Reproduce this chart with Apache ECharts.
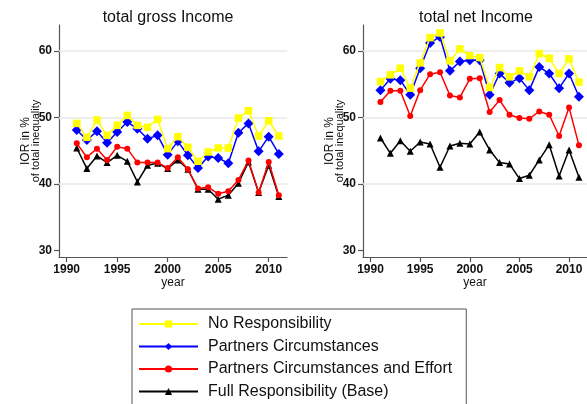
<!DOCTYPE html>
<html>
<head>
<meta charset="utf-8">
<script src="https://cdn.jsdelivr.net/npm/echarts@6/dist/echarts.min.js"></script>
<style>
  html, body { margin: 0; padding: 0; background: #fff; }
  #chart { width: 587px; height: 404px; }
</style>
</head>
<body>
<div id="chart"></div>
<script>
// Survey years
const years = [1991, 1992, 1993, 1994, 1995, 1996, 1997, 1998, 1999, 2000,
               2001, 2002, 2003, 2004, 2005, 2006, 2007, 2008, 2009, 2010, 2011];

// Inequality of opportunity (IOR) share, total gross income
const grossNoResp      = [49.1, 47.0, 49.6, 47.3, 48.8, 50.3, 48.8, 48.5, 49.7, 45.3, 47.1, 45.5, 43.4, 44.8, 45.4, 45.4, 49.9, 51.0, 47.2, 49.5, 47.2];
const grossPartCirc    = [48.1, 46.6, 47.9, 46.2, 47.8, 49.3, 48.3, 46.8, 47.3, 44.4, 46.4, 44.3, 42.4, 44.1, 43.9, 43.1, 47.7, 49.1, 44.9, 47.1, 44.5];
const grossPartEffort  = [46.1, 44.0, 45.3, 43.6, 45.6, 45.3, 43.2, 43.2, 43.2, 42.4, 44.0, 42.2, 39.3, 39.5, 38.5, 38.9, 40.6, 43.5, 38.7, 43.3, 38.3];
const grossFullResp    = [45.4, 42.3, 44.2, 43.2, 44.3, 43.4, 40.3, 42.8, 43.1, 42.3, 43.6, 42.2, 39.2, 39.2, 37.7, 38.3, 40.1, 43.3, 38.7, 42.8, 38.1];

// Inequality of opportunity (IOR) share, total net income
const netNoResp        = [55.4, 56.4, 57.4, 54.4, 58.2, 62.0, 62.7, 58.5, 60.3, 59.3, 59.0, 54.5, 57.5, 56.1, 57.0, 56.1, 59.6, 58.9, 56.6, 58.8, 55.3];
const netPartCirc      = [54.1, 55.8, 55.6, 53.4, 57.4, 61.2, 62.1, 57.0, 58.4, 58.6, 58.6, 53.4, 56.6, 55.2, 55.9, 54.1, 57.6, 56.6, 54.4, 56.6, 53.1];
const netPartEffort    = [52.3, 54.0, 54.0, 50.2, 54.1, 56.5, 56.8, 53.3, 53.0, 55.8, 55.9, 50.8, 52.6, 50.4, 49.9, 49.8, 50.9, 50.4, 47.2, 51.5, 45.8];
const netFullResp      = [46.9, 44.6, 46.5, 44.9, 46.3, 46.0, 42.5, 45.7, 46.1, 46.0, 47.8, 45.1, 43.2, 43.0, 40.8, 41.3, 43.6, 45.9, 41.2, 45.1, 41.0];

// Axis ticks and labels
const xTicks = [1990, 1995, 2000, 2005, 2010];
const yTicks = [30, 40, 50, 60];
const yGrid  = [40, 50, 60];

const panelTitles = ['total gross Income', 'total net Income'];
const seriesNames = ['No Responsibility', 'Partners Circumstances',
                     'Partners Circumstances and Effort', 'Full Responsibility (Base)'];

const FONT = '"Liberation Sans", Arial, sans-serif';

const styles = [
  { color: '#ffff00', symbol: 'rect',     size: 7.5, z: 5 },
  { color: '#0000ff', symbol: 'diamond',  size: 10,  z: 4 },
  { color: '#ff0000', symbol: 'circle',   size: 6,   z: 3 },
  { color: '#000000', symbol: 'triangle', size: 7,   z: 2 }
];

const panels = [
  [grossNoResp, grossPartCirc, grossPartEffort, grossFullResp],
  [netNoResp, netPartCirc, netPartEffort, netFullResp]
];

function xAxisFor(idx) {
  return {
    type: 'value', gridIndex: idx, min: 1989.24, max: 2011.81,
    name: 'year', nameLocation: 'middle', nameGap: 20, nameMoveOverlap: false,
    nameTextStyle: { fontFamily: FONT, fontSize: 12, color: '#111' },
    axisLine: { onZero: false, lineStyle: { color: '#555', width: 1.2 } },
    axisTick: { customValues: xTicks, length: 5, lineStyle: { color: '#555', width: 1.2 } },
    axisLabel: { customValues: xTicks, formatter: v => String(v),
                 fontFamily: FONT, fontSize: 12, fontWeight: 'bold', color: '#111', margin: 7 },
    splitLine: { show: false }
  };
}

function yAxisFor(idx) {
  return {
    type: 'value', gridIndex: idx, min: 29.0, max: 63.9,
    name: '{a|IOR in %}\n{b|of total inequality}',
    nameLocation: 'middle', nameRotate: 90, nameGap: 19, nameMoveOverlap: false,
    nameTextStyle: {
      fontFamily: FONT, color: '#111', align: 'center',
      rich: {
        a: { fontFamily: FONT, fontSize: 12, lineHeight: 10, color: '#111' },
        b: { fontFamily: FONT, fontSize: 11, lineHeight: 9, color: '#111' }
      }
    },
    axisLine: { show: true, onZero: false, lineStyle: { color: '#555', width: 1.2 } },
    axisTick: { show: true, customValues: yTicks, length: 5, lineStyle: { color: '#555', width: 1.2 } },
    axisLabel: { customValues: yTicks, formatter: v => String(v),
                 fontFamily: FONT, fontSize: 12, fontWeight: 'bold', color: '#111', margin: 7 },
    splitLine: { show: false }
  };
}

const series = [];
panels.forEach((sets, p) => {
  sets.forEach((vals, k) => {
    const st = styles[k];
    const s = {
      name: seriesNames[k], type: 'line',
      xAxisIndex: p, yAxisIndex: p, z: st.z,
      data: years.map((yr, i) => [yr, vals[i]]),
      symbol: st.symbol, symbolSize: st.size, showAllSymbol: true,
      lineStyle: { color: st.color, width: 1.5 },
      itemStyle: { color: st.color, borderWidth: 0 },
      emphasis: { disabled: true }
    };
    if (k === 3) {
      // horizontal reference lines behind the data
      s.markLine = {
        silent: true, symbol: 'none', z: 1,
        label: { show: false },
        lineStyle: { color: '#e9e9e9', width: 1.6, type: 'solid' },
        data: yGrid.map(v => ({ yAxis: v }))
      };
    }
    series.push(s);
  });
});

const chart = echarts.init(document.getElementById('chart'), null, { renderer: 'canvas' });
chart.setOption({
  animation: false,
  backgroundColor: '#fff',
  title: [
    { text: panelTitles[0], left: 163, top: 5, textAlign: 'center',
      textStyle: { fontFamily: FONT, fontSize: 16, fontWeight: 'normal', color: '#111' } },
    { text: panelTitles[1], left: 471, top: 5, textAlign: 'center',
      textStyle: { fontFamily: FONT, fontSize: 16, fontWeight: 'normal', color: '#111' } }
  ],
  grid: [
    { left: 59, top: 25, width: 228, height: 232 },
    { left: 363, top: 25, width: 228, height: 232 }
  ],
  xAxis: [xAxisFor(0), xAxisFor(1)],
  yAxis: [yAxisFor(0), yAxisFor(1)],
  legend: {
    data: seriesNames,
    orient: 'vertical',
    left: 132, top: 309, height: 140,
    padding: [7, 14, 20, 6],
    itemWidth: 59, itemHeight: 9, itemGap: 6.5,
    borderColor: '#555', borderWidth: 1,
    selectedMode: false,
    textStyle: { fontFamily: FONT, fontSize: 16, lineHeight: 16, color: '#111', padding: [0, 0, 0, 5] }
  },
  series: series
});
</script>
</body>
</html>
